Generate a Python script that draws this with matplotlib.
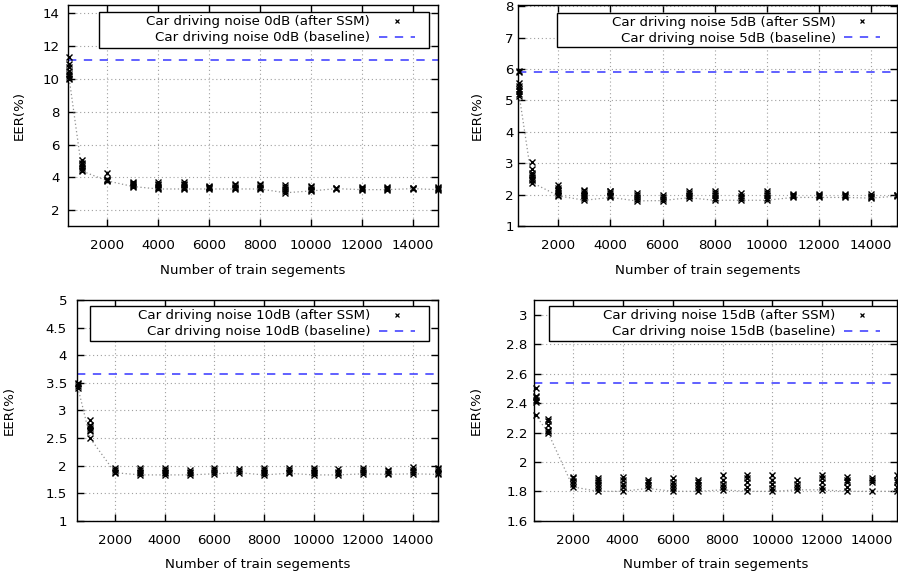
import matplotlib
matplotlib.use("Agg")
import matplotlib.pyplot as plt
from matplotlib.patches import Rectangle
from matplotlib.lines import Line2D
from matplotlib.ticker import FuncFormatter

plt.rcParams['font.family'] = ['DejaVu Sans']

train_segments = [500, 1000, 2000, 3000, 4000, 5000, 6000, 7000, 8000,
                  9000, 10000, 11000, 12000, 13000, 14000, 15000]

eer_0db = [
    [9.98, 10.05, 10.15, 10.3, 10.5, 10.7, 10.9, 11.33],
    [4.39, 4.45, 4.6, 4.7, 4.8, 4.9, 5.05],
    [3.79, 3.82, 3.85, 3.9, 4.26],
    [3.45, 3.5, 3.55, 3.6, 3.65, 3.72],
    [3.3, 3.35, 3.45, 3.55, 3.62, 3.7],
    [3.3, 3.35, 3.45, 3.55, 3.62, 3.7],
    [3.3, 3.35, 3.4, 3.45, 3.5],
    [3.3, 3.38, 3.45, 3.52, 3.6],
    [3.3, 3.35, 3.45, 3.55, 3.62],
    [3.07, 3.2, 3.3, 3.4, 3.52],
    [3.18, 3.25, 3.3, 3.4, 3.48],
    [3.32, 3.35, 3.38],
    [3.26, 3.3, 3.35, 3.4],
    [3.26, 3.3, 3.35, 3.4],
    [3.32, 3.35, 3.38],
    [3.26, 3.3, 3.35, 3.4],
]
baseline_0db = 11.15

eer_5db = [
    [5.14, 5.2, 5.3, 5.38, 5.45, 5.55, 5.9, 5.95],
    [2.38, 2.45, 2.5, 2.55, 2.62, 2.7, 2.8, 3.03],
    [1.96, 2.0, 2.05, 2.1, 2.15, 2.2, 2.32],
    [1.82, 1.9, 1.95, 2.0, 2.05, 2.1, 2.15],
    [1.91, 1.95, 2.0, 2.05, 2.1, 2.13],
    [1.8, 1.86, 1.92, 1.98, 2.05],
    [1.81, 1.86, 1.92, 2.0],
    [1.9, 1.95, 2.0, 2.05, 2.13],
    [1.82, 1.9, 1.98, 2.05, 2.13],
    [1.82, 1.9, 1.97, 2.05],
    [1.82, 1.9, 1.98, 2.05, 2.12],
    [1.91, 1.95, 2.0, 2.03],
    [1.91, 1.95, 2.0, 2.03],
    [1.91, 1.95, 2.0, 2.03],
    [1.89, 1.93, 1.97, 2.02],
    [1.95, 1.98, 2.0],
]
baseline_5db = 5.91

eer_10db = [
    [3.41, 3.44, 3.47, 3.49],
    [2.49, 2.62, 2.65, 2.68, 2.71, 2.73, 2.83],
    [1.87, 1.89, 1.92, 1.95],
    [1.83, 1.86, 1.89, 1.92, 1.95],
    [1.83, 1.86, 1.89, 1.92, 1.95],
    [1.83, 1.86, 1.89, 1.92],
    [1.85, 1.88, 1.92, 1.95],
    [1.87, 1.9, 1.93],
    [1.83, 1.86, 1.89, 1.92, 1.95],
    [1.86, 1.89, 1.92, 1.96],
    [1.83, 1.86, 1.89, 1.92, 1.95],
    [1.83, 1.86, 1.89, 1.94],
    [1.85, 1.88, 1.92, 1.96],
    [1.84, 1.87, 1.9, 1.92],
    [1.85, 1.88, 1.92, 1.97],
    [1.84, 1.87, 1.9, 1.93, 1.96],
]
baseline_10db = 3.65

eer_15db = [
    [2.32, 2.41, 2.42, 2.44, 2.45, 2.5],
    [2.2, 2.21, 2.22, 2.25, 2.28, 2.29],
    [1.83, 1.85, 1.87, 1.89, 1.9],
    [1.8, 1.82, 1.84, 1.86, 1.88, 1.89],
    [1.8, 1.83, 1.85, 1.88, 1.9],
    [1.82, 1.84, 1.86, 1.88],
    [1.8, 1.82, 1.84, 1.86, 1.89],
    [1.8, 1.82, 1.84, 1.86, 1.88],
    [1.81, 1.83, 1.85, 1.88, 1.91],
    [1.8, 1.83, 1.86, 1.89, 1.91],
    [1.8, 1.82, 1.85, 1.88, 1.91],
    [1.81, 1.83, 1.85, 1.88],
    [1.81, 1.83, 1.86, 1.89, 1.91],
    [1.8, 1.83, 1.86, 1.88, 1.9],
    [1.8, 1.86, 1.88, 1.89],
    [1.8, 1.83, 1.86, 1.88, 1.91],
]
baseline_15db = 2.54

panels = [
    dict(name="0dB", data=eer_0db, base=baseline_0db, ylim=(1.05, 14.5),
         yticks=[2, 4, 6, 8, 10, 12, 14],
         rect=[68, 4.7, 438, 226], box=(0.083, 0.806, 0.976, 0.966),
         handle_right=0.9365, ylab_x=-0.132, ypad=6),
    dict(name="5dB", data=eer_5db, base=baseline_5db, ylim=(1.0, 8.05),
         yticks=[1, 2, 3, 4, 5, 6, 7, 8],
         rect=[518, 4.7, 897, 226], box=(0.103, 0.807, 1.0, 0.964),
         handle_right=0.956, ylab_x=-0.107, ypad=3),
    dict(name="10dB", data=eer_10db, base=baseline_10db, ylim=(1.0, 5.0),
         yticks=[1, 1.5, 2, 2.5, 3, 3.5, 4, 4.5, 5],
         rect=[76.7, 300, 437.7, 520.7], box=(0.037, 0.813, 0.977, 0.971),
         handle_right=0.938, ylab_x=-0.186, ypad=7),
    dict(name="15dB", data=eer_15db, base=baseline_15db, ylim=(1.6, 3.1),
         yticks=[1.6, 1.8, 2.0, 2.2, 2.4, 2.6, 2.8, 3.0],
         rect=[534.3, 300.3, 897, 520.7], box=(0.040, 0.814, 1.0, 0.973),
         handle_right=0.953, ylab_x=-0.159, ypad=5),
]

W, H = 898, 578
fig = plt.figure(figsize=(W / 100, H / 100), dpi=100)

xticks = [2000, 4000, 6000, 8000, 10000, 12000, 14000]
grid_kw = dict(color='#a0a0a0', linewidth=0.8, linestyle=(0, (1, 2.5)))
blue = '#4646ff'
FS = 9.6

for p in panels:
    l, t, r, b = p["rect"]
    ax = fig.add_axes([l / W, 1 - b / H, (r - l) / W, (b - t) / H])
    data = p["data"]
    # scatter of all runs
    for xv, vals in zip(train_segments, data):
        ax.plot([xv] * len(vals), vals, linestyle='none', marker='x',
                color='black', markersize=3.8, markeredgewidth=1.0, zorder=3,
                clip_on=False)
    # dotted line through minima
    mins = [min(v) for v in data]
    ax.plot(train_segments, mins, color='#909090', linewidth=0.9,
            linestyle=(0, (1, 2)), zorder=2)
    # baseline
    ax.axhline(p["base"], color=blue, linewidth=1.2, linestyle=(0, (5, 4.5)),
               zorder=2.5)

    ax.set_xlim(450, 15000)
    ax.set_ylim(*p["ylim"])
    ax.set_xticks(xticks)
    ax.set_yticks(p["yticks"])
    ax.yaxis.set_major_formatter(FuncFormatter(lambda v, pos: ('%g' % round(v, 2))))
    ax.grid(True, **grid_kw)
    ax.set_axisbelow(True)
    ax.tick_params(direction='in', length=5, width=1, top=True, right=True,
                   labelsize=FS, colors='black')
    ax.tick_params(axis='x', pad=9.5)
    ax.tick_params(axis='y', pad=p["ypad"])
    for s in ax.spines.values():
        s.set_linewidth(1.0)
        s.set_color('black')

    ax.set_xlabel("Number of train segements", fontsize=FS)
    ax.xaxis.label.set_va('center')
    ax.xaxis.set_label_coords(0.5, -0.199)
    ax.set_ylabel("EER(%)", fontsize=FS)
    ax.yaxis.label.set_va('center')
    ax.yaxis.set_label_coords(p["ylab_x"], 0.5)

    # legend box (opaque, like gnuplot key)
    x0, y0, x1, y1 = p["box"]
    ax.add_patch(Rectangle((x0, y0), x1 - x0, y1 - y0, transform=ax.transAxes,
                           facecolor='white', edgecolor='black', linewidth=1.0,
                           zorder=4.5, clip_on=False))
    h1 = Line2D([], [], linestyle='none', marker='x', color='black',
                markersize=3.5, markeredgewidth=0.9)
    h2 = Line2D([], [], color=blue, linewidth=1.2, linestyle=(0, (5, 4.5)))
    leg = ax.legend([h1, h2],
                    [f"Car driving noise {p['name']} (after SSM)",
                     f"Car driving noise {p['name']} (baseline)"],
                    loc='center right',
                    bbox_to_anchor=(p["handle_right"], (y0 + y1) / 2),
                    frameon=False, markerfirst=False, fontsize=FS,
                    handlelength=2.7, handletextpad=0.65, labelspacing=0.22,
                    borderpad=0, borderaxespad=0, numpoints=1)
    leg.set_zorder(6)

fig.savefig("out.png", dpi=100)
